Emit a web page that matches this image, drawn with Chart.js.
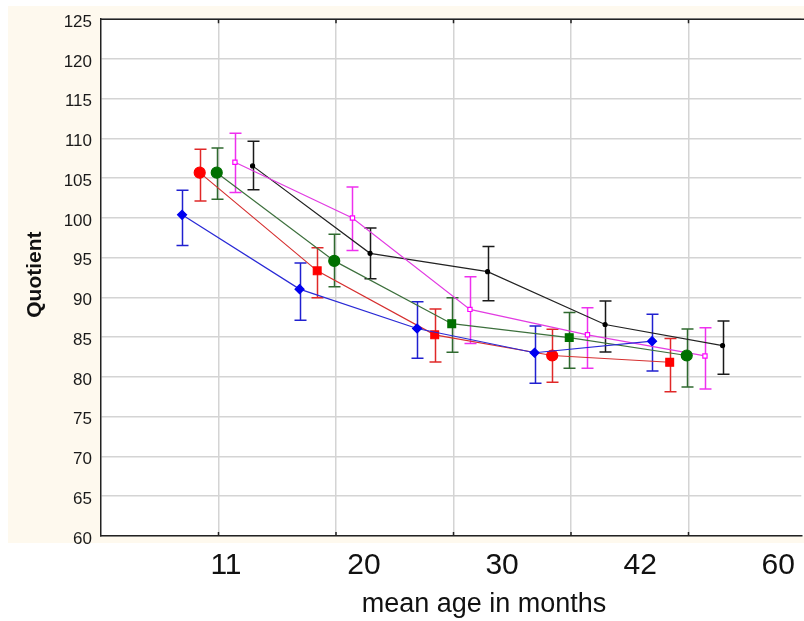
<!DOCTYPE html>
<html>
<head>
<meta charset="utf-8">
<script src="https://cdn.jsdelivr.net/npm/chart.js@4/dist/chart.umd.min.js"></script>
<style>
  html, body { margin: 0; padding: 0; background: #fff; overflow: hidden; }
  #wrap { width: 808px; height: 621px; position: relative; }
</style>
</head>
<body>
<div id="wrap"><canvas id="chart"></canvas></div>
<script>
// age groups (x categories)
const ages = ['11', '20', '30', '42', '60'];

// means and error bar ends, one set per group
const blueMean  = [100.4, 91.05, 86.1, 83.05, 84.5];
const blueHi    = [103.5, 94.35, 89.45, 86.4, 87.9];
const blueLo    = [96.55, 87.15, 82.35, 79.2, 80.75];

const redMean   = [105.7, 93.35, 85.3, 82.7, 81.85];
const redHi     = [108.65, 96.25, 88.55, 86.0, 84.85];
const redLo     = [102.15, 89.95, 81.9, 79.35, 78.15];

const greenMean = [105.7, 94.6, 86.7, 84.95, 82.7];
const greenHi   = [108.8, 97.95, 89.95, 88.1, 86.05];
const greenLo   = [102.35, 91.35, 83.1, 81.1, 78.75];

const pinkMean  = [107.0, 100.0, 88.5, 85.3, 82.65];
const pinkHi    = [110.65, 103.9, 92.6, 88.7, 86.2];
const pinkLo    = [103.2, 95.9, 84.2, 81.1, 78.5];

const blackMean = [106.55, 95.55, 93.25, 86.6, 83.95];
const blackHi   = [109.65, 98.75, 96.4, 89.55, 87.05];
const blackLo   = [103.55, 92.35, 89.6, 83.15, 80.35];

const yTicks = { min: 60, max: 125, step: 5 };

// horizontal dodge of each group so the bars don't overlap
const dodge = [-0.31, -0.16, -0.015, 0.14, 0.29];

function pts(means, s) {
    return means.map((m, i) => ({ x: i + 1 + dodge[s], y: m }));
}

const series = [
    { mean: blueMean, hi: blueHi, lo: blueLo, line: '#2a2ad6', mark: '#0000f0', bar: '#2020d0',
      style: 'rectRot', radius: 4.5, fill: '#0000f0' },
    { mean: redMean, hi: redHi, lo: redLo, line: '#d63030', mark: '#ff0000', bar: '#e02828',
      style: ['circle', 'rect', 'rect', 'circle', 'rect'], radius: 5.5, fill: '#ff0000' },
    { mean: greenMean, hi: greenHi, lo: greenLo, line: '#3d703d', mark: '#007000', bar: '#2f6a2f',
      style: ['circle', 'circle', 'rect', 'rect', 'circle'], radius: 5.5, fill: '#007000' },
    { mean: pinkMean, hi: pinkHi, lo: pinkLo, line: '#e23ce2', mark: '#ff00ff', bar: '#ee30ee',
      style: 'rect', radius: 3, fill: '#ffffff' },
    { mean: blackMean, hi: blackHi, lo: blackLo, line: '#222222', mark: '#000000', bar: '#1a1a1a',
      style: 'circle', radius: 2, fill: '#000000' }
];

const datasets = series.map((s, i) => ({
    data: pts(s.mean, i),
    borderColor: s.line,
    borderWidth: 1.2,
    pointStyle: s.style,
    pointRadius: s.radius,
    pointBackgroundColor: s.fill,
    pointBorderColor: s.mark,
    pointBorderWidth: 1.2,
    tension: 0
}));

// background, error bars, frame and axis titles
const decor = {
    id: 'decor',
    beforeDraw(chart) {
        const { ctx, chartArea: a } = chart;
        ctx.save();
        ctx.fillStyle = '#ffffff';
        ctx.fillRect(0, 0, chart.width, chart.height);
        ctx.fillStyle = '#fef9ee';
        ctx.fillRect(8, 6, chart.width - 8, a.bottom + 7 - 6);
        ctx.fillStyle = '#ffffff';
        ctx.fillRect(a.left, a.top, chart.width - a.left, a.bottom - a.top);
        ctx.restore();
    },
    beforeDatasetsDraw(chart) {
        const { ctx } = chart;
        const xs = chart.scales.x, ys = chart.scales.y;
        ctx.save();
        series.forEach((s, si) => {
            ctx.strokeStyle = s.bar;
            ctx.lineWidth = 1.5;
            s.mean.forEach((m, i) => {
                const px = Math.round(xs.getPixelForValue(i + 1 + dodge[si])) + 0.5;
                const top = ys.getPixelForValue(s.hi[i]);
                const bot = ys.getPixelForValue(s.lo[i]);
                ctx.beginPath();
                ctx.moveTo(px, top); ctx.lineTo(px, bot);
                ctx.moveTo(px - 6, top); ctx.lineTo(px + 6, top);
                ctx.moveTo(px - 6, bot); ctx.lineTo(px + 6, bot);
                ctx.stroke();
            });
        });
        ctx.restore();
    },
    afterDraw(chart) {
        const { ctx, chartArea: a } = chart;
        const xs = chart.scales.x;
        ctx.save();
        ctx.strokeStyle = '#222';
        ctx.lineWidth = 1.5;
        ctx.beginPath();
        ctx.moveTo(a.left, a.top); ctx.lineTo(chart.width, a.top);
        xs.ticks.forEach(t => {
            const px = xs.getPixelForValue(t.value);
            ctx.moveTo(px, a.top); ctx.lineTo(px, a.top + 4);
            ctx.moveTo(px, a.bottom); ctx.lineTo(px, a.bottom - 4);
        });
        ctx.stroke();

        ctx.fillStyle = '#111';
        ctx.font = 'bold 21px Arial, "Liberation Sans", sans-serif';
        ctx.textAlign = 'center';
        ctx.textBaseline = 'middle';
        ctx.translate(35, (a.top + a.bottom) / 2 - 3);
        ctx.rotate(-Math.PI / 2);
        ctx.fillText('Quotient', 0, 0);
        ctx.setTransform(1, 0, 0, 1, 0, 0);
        ctx.font = '27px Arial, "Liberation Sans", sans-serif';
        ctx.fillText('mean age in months', 484, 605);
        ctx.restore();
    }
};

new Chart(document.getElementById('chart'), {
    type: 'line',
    data: { datasets },
    plugins: [decor],
    options: {
        responsive: true,
        maintainAspectRatio: false,
        animation: false,
        layout: { padding: { top: 19, left: 0, right: 0, bottom: 0 } },
        plugins: { legend: { display: false }, tooltip: { enabled: false } },
        scales: {
            x: {
                type: 'linear',
                min: 0,
                max: 5.96,
                afterBuildTicks: sc => { sc.ticks = ages.map((a, i) => ({ value: i + 1 })); },
                afterFit: sc => { sc.height = 0; },
                ticks: { display: false },
                grid: { color: '#d4d4d4', lineWidth: 1.5, drawTicks: false },
                border: { color: '#222', width: 1.5 }
            },
            x2: {
                type: 'linear',
                position: 'bottom',
                min: 0.095,
                max: 5.167,
                afterBuildTicks: sc => { sc.ticks = ages.map((a, i) => ({ value: i + 1 })); },
                afterFit: sc => { sc.height = 85; },
                ticks: {
                    callback: (v, i) => ages[i],
                    font: { family: 'Arial, "Liberation Sans", sans-serif', size: 30 },
                    color: '#111',
                    padding: 12,
                    maxRotation: 0
                },
                grid: { display: false, drawTicks: false },
                border: { display: false }
            },
            y: {
                type: 'linear',
                min: yTicks.min,
                max: yTicks.max,
                afterFit: sc => { sc.width = 101; },
                ticks: {
                    stepSize: yTicks.step,
                    font: { family: 'Arial, "Liberation Sans", sans-serif', size: 17 },
                    color: '#1a1a1a',
                    padding: 9,
                    labelOffset: 3
                },
                grid: { color: '#d4d4d4', lineWidth: 1.5, drawTicks: false },
                border: { color: '#222', width: 1.5 }
            }
        }
    }
});
</script>
</body>
</html>
